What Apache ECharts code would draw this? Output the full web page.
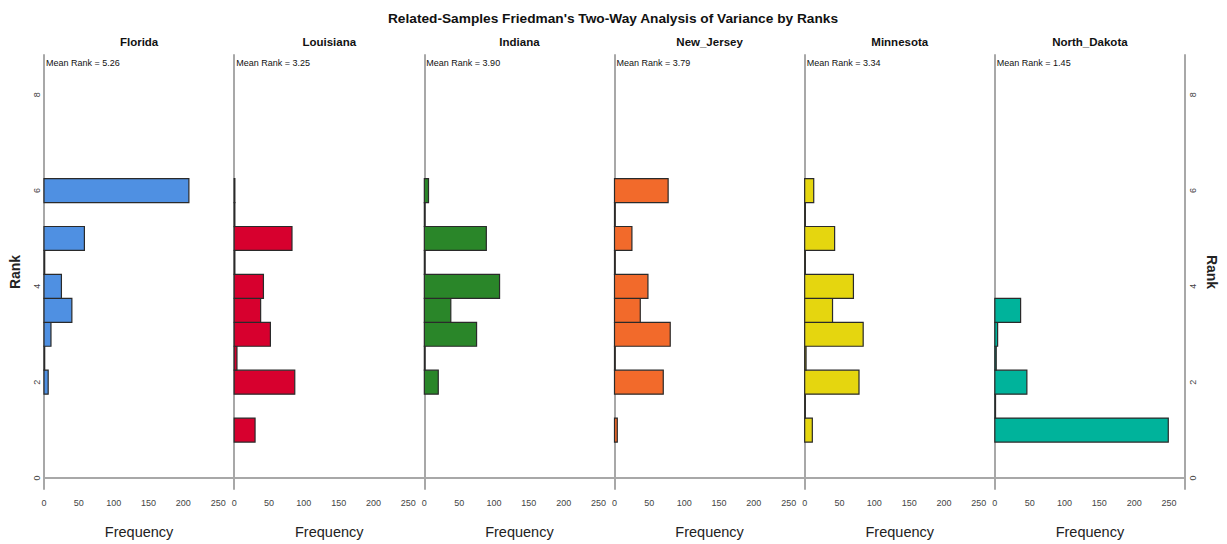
<!DOCTYPE html>
<html><head><meta charset="utf-8">
<script src="https://cdn.jsdelivr.net/npm/echarts@6/dist/echarts.min.js"></script>
<style>html,body{margin:0;padding:0;background:#fff}#c{width:1227px;height:544px}</style>
</head><body><div id="c"></div>
<script>
// ---- data ----
const chartTitle = "Related-Samples Friedman's Two-Way Analysis of Variance by Ranks";
const states = ['Florida', 'Louisiana', 'Indiana', 'New_Jersey', 'Minnesota', 'North_Dakota'];
const meanRanks = ['5.26', '3.25', '3.90', '3.79', '3.34', '1.45'];
const rankBins = [1, 1.5, 2, 2.5, 3, 3.5, 4, 4.5, 5, 5.5, 6];
const florida     = [0,   0, 6,  1, 10, 40, 25,  1, 58, 0, 208];
const louisiana   = [30,  0, 87, 4, 52, 38, 42,  1, 83, 1, 1];
const indiana     = [0,   0, 20, 1, 75, 38, 108, 1, 89, 1, 6];
const newJersey   = [4,   0, 70, 1, 80, 37, 48,  1, 25, 1, 77];
const minnesota   = [11,  1, 78, 2, 84, 40, 70,  1, 43, 1, 13];
const northDakota = [249, 1, 46, 2, 4,  37, 0,   0, 0,  0, 0];
const rankTicks = [0, 2, 4, 6, 8];
const freqTickStep = 50;

const seriesValues = [florida, louisiana, indiana, newJersey, minnesota, northDakota];
const colors = ['#4f90e2', '#d7002e', '#2a8629', '#f26a2b', '#e5d60f', '#00b39b'];

// ---- layout ----
const FONT = 'Liberation Sans, Arial, sans-serif';
const plotLeft = 44, plotRight = 1185, plotTop = 55, plotBottom = 490;
const panelW = (plotRight - plotLeft) / states.length;
const halfBin = 0.25;

const grids = [], xAxes = [], yAxes = [], series = [], graphics = [];

graphics.push({type:'text', x: 613, y: 18, style:{text: chartTitle, font: 'bold 13.7px ' + FONT, fill:'#111', textAlign:'center', textVerticalAlign:'middle'}});

states.forEach((st, i) => {
  const left = plotLeft + i * panelW;
  grids.push({left: left, top: plotTop, width: panelW, height: plotBottom - plotTop, containLabel:false});
  xAxes.push({
    type:'value', gridIndex:i, min:0, max:273, interval: freqTickStep,
    name:'Frequency', nameLocation:'middle', nameGap:35,
    nameTextStyle:{fontSize:14.5, color:'#222', fontFamily:FONT},
    axisLine:{show:true, lineStyle:{color:'#a8a8a8', width:2}},
    axisTick:{show:false}, splitLine:{show:false},
    axisLabel:{fontSize:9, color:'#444', margin:9, fontFamily:FONT, showMaxLabel:false,
      formatter: v => (v <= 250 ? String(v) : '')}
  });
  yAxes.push({
    type:'value', gridIndex:i, min:-0.23, max:8.83,
    name: i === 0 ? 'Rank' : '', nameLocation:'middle', nameGap:22,
    nameTextStyle:{fontSize:14, fontWeight:'bold', color:'#222', fontFamily:FONT},
    axisLine:{show:true, onZero:false, lineStyle:{color:'#a8a8a8', width:2}},
    axisTick:{show:false}, splitLine:{show:false},
    axisLabel:{show: i === 0, customValues: rankTicks, rotate:90, fontSize:9, color:'#444', margin:3, fontFamily:FONT}
  });
  const data = [];
  rankBins.forEach((r, k) => { if (seriesValues[i][k] > 0) data.push([seriesValues[i][k], r]); });
  const col = colors[i];
  series.push({
    type:'custom', xAxisIndex:i, yAxisIndex:i, data: data,
    encode:{x:0, y:1},
    renderItem: (params, api) => {
      const f = api.value(0), r = api.value(1);
      const p0 = api.coord([0, r + halfBin]);
      const p1 = api.coord([f, r - halfBin]);
      return {type:'rect', shape:{x:p0[0], y:p0[1], width:p1[0]-p0[0], height:p1[1]-p0[1]},
        style:{fill: col, stroke:'#2a2a2a', lineWidth:1.2}};
    }
  });
  graphics.push({type:'text', x: left + panelW/2, y: 42, style:{text: st, font:'bold 11.5px ' + FONT, fill:'#111', textAlign:'center', textVerticalAlign:'middle'}});
  graphics.push({type:'text', x: left + 2, y: 63, style:{text: 'Mean Rank = ' + meanRanks[i], font:'9px ' + FONT, fill:'#111', textAlign:'left', textVerticalAlign:'middle'}});
});

// right-side rank axis on the last panel
yAxes.push({
  type:'value', gridIndex: states.length - 1, position:'right', min:-0.23, max:8.83,
  name:'Rank', nameLocation:'middle', nameGap:20, nameRotate:-90,
  nameTextStyle:{fontSize:14, fontWeight:'bold', color:'#222', fontFamily:FONT},
  axisLine:{show:true, onZero:false, lineStyle:{color:'#a8a8a8', width:2}},
  axisTick:{show:false}, splitLine:{show:false},
  axisLabel:{customValues: rankTicks, rotate:90, fontSize:9, color:'#444', margin:3, fontFamily:FONT}
});

const chart = echarts.init(document.getElementById('c'), null, {renderer:'svg'});
chart.setOption({
  animation:false, backgroundColor:'#fff',
  grid: grids, xAxis: xAxes, yAxis: yAxes, series: series, graphic: graphics
});
</script></body></html>
